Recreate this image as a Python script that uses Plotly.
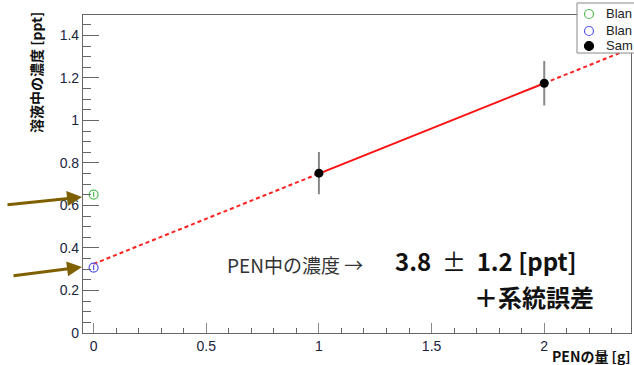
import plotly.graph_objects as go

# ---- data ----
blank1_x = [0.0]
blank1_y = [0.651]
blank1_err = [0.012]
blank2_x = [0.0]
blank2_y = [0.308]
blank2_err = [0.012]
sample_x = [1.0, 2.0]
sample_y = [0.752, 1.175]
sample_err = [0.095, 0.1]
fit_slope = 0.425
fit_intercept = 0.325
fit_solid_range = [1.0, 2.0]
fit_dash_ranges = [[0.0, 1.0], [2.0, 2.385]]
x_range = [-0.047, 2.385]
y_range = [0.0, 1.496]
x_ticks = [0, 0.5, 1, 1.5, 2]
x_ticklabels = ["0", "0.5", "1", "1.5", "2"]
y_ticks = [0, 0.2, 0.4, 0.6, 0.8, 1.0, 1.2, 1.4]
y_ticklabels = ["0", "0.2", "0.4", "0.6", "0.8", "1", "1.2", "1.4"]
legend_labels = ["Blan", "Blan", "Sam"]
legend_colors = ["#55bb55", "#5555ee", "#000000"]
legend_filled = [False, False, True]
y_title = "溶液中の濃度 [ppt]"
x_title = "PENの量 [g]"
result_lead = "PEN中の濃度&nbsp;→"
result_value = "<b>3.8</b>&nbsp;&nbsp;±&nbsp;&nbsp;<b>1.2&nbsp;[ppt]</b>"
result_syst = "＋系統誤差"

W, H = 634, 365
L, R, T, B = 83, 3, 15, 32
pw = W - L - R
ph = H - T - B

def px_x(p):
    return (p - L) / pw

def px_y(p):
    return (H - B - p) / ph

fig = go.Figure()

def fit_line(xs):
    return [fit_intercept + fit_slope * x for x in xs]

for rng in fit_dash_ranges:
    fig.add_trace(go.Scatter(x=rng, y=fit_line(rng), mode="lines",
                             line=dict(color="#ff2020", width=2, dash="4px,3px"),
                             showlegend=False, hoverinfo="skip"))
fig.add_trace(go.Scatter(x=fit_solid_range, y=fit_line(fit_solid_range), mode="lines",
                         line=dict(color="#ff1010", width=2),
                         showlegend=False, hoverinfo="skip"))

fig.add_trace(go.Scatter(x=blank1_x, y=blank1_y, mode="markers",
                         marker=dict(symbol="circle-open", size=9, color="#55bb55", line=dict(width=1.2)),
                         error_y=dict(type="data", array=blank1_err, color="#55bb55", thickness=1.2, width=0),
                         showlegend=False, cliponaxis=False))
fig.add_trace(go.Scatter(x=blank2_x, y=blank2_y, mode="markers",
                         marker=dict(symbol="circle-open", size=9, color="#5555ee", line=dict(width=1.2)),
                         error_y=dict(type="data", array=blank2_err, color="#5555ee", thickness=1.2, width=0),
                         showlegend=False, cliponaxis=False))
fig.add_trace(go.Scatter(x=sample_x, y=sample_y, mode="markers",
                         marker=dict(symbol="circle", size=9, color="#000000"),
                         error_y=dict(type="data", array=sample_err, color="#888888", thickness=2, width=1),
                         showlegend=False))

shapes = []
# legend box
shapes.append(dict(type="rect", xref="paper", yref="paper",
                   x0=px_x(577), x1=px_x(645), y0=px_y(53), y1=px_y(3),
                   line=dict(color="#888888", width=1), fillcolor="white", layer="above"))
annotations = []
leg_ys = [14, 31, 46]
for lab, col, filled, ly in zip(legend_labels, legend_colors, legend_filled, leg_ys):
    shapes.append(dict(type="circle", xref="paper", yref="paper",
                       xsizemode="pixel", ysizemode="pixel",
                       xanchor=px_x(589), yanchor=px_y(ly),
                       x0=-4.5, x1=4.5, y0=-4.5, y1=4.5,
                       line=dict(color=col, width=1.2),
                       fillcolor=col if filled else "rgba(0,0,0,0)", layer="above"))
    annotations.append(dict(text=lab, xref="paper", yref="paper", x=px_x(604), y=px_y(ly),
                            xanchor="left", yanchor="middle", showarrow=False,
                            font=dict(family="Liberation Sans", size=13, color="#222")))

# axis titles
annotations.append(dict(text="<b>" + y_title + "</b>", xref="paper", yref="paper", x=px_x(36), y=px_y(73),
                        textangle=-90, showarrow=False, xanchor="center", yanchor="middle",
                        font=dict(family="Noto Sans CJK JP", size=14, color="#111")))
annotations.append(dict(text="<b>" + x_title + "</b>", xref="paper", yref="paper", x=px_x(633), y=px_y(356),
                        showarrow=False, xanchor="right", yanchor="middle",
                        font=dict(family="Noto Sans CJK JP", size=14, color="#111")))

# result text
annotations.append(dict(text=result_lead, xref="paper", yref="paper", x=px_x(225), y=px_y(264),
                        showarrow=False, xanchor="left", yanchor="middle",
                        font=dict(family="Noto Sans CJK JP", size=19, color="#333")))
annotations.append(dict(text=result_value, xref="paper", yref="paper", x=px_x(393), y=px_y(260),
                        showarrow=False, xanchor="left", yanchor="middle",
                        font=dict(family="Noto Sans CJK JP", size=24, color="#111")))
annotations.append(dict(text="<b>" + result_syst + "</b>", xref="paper", yref="paper", x=px_x(596), y=px_y(296),
                        showarrow=False, xanchor="right", yanchor="middle",
                        font=dict(family="Noto Sans CJK JP", size=24, color="#111")))

# arrows
for tip, tail in [((82, 197), (6, 205)), ((82, 267), (12, 276))]:
    annotations.append(dict(text="", xref="paper", yref="paper", x=px_x(tip[0]), y=px_y(tip[1]),
                            ax=tail[0] - tip[0], ay=tail[1] - tip[1], showarrow=True,
                            arrowhead=2, arrowsize=1, arrowwidth=3, arrowcolor="#7f6000"))

tickfont = dict(family="Liberation Sans", size=14, color="#1a2440")
fig.update_layout(
    width=W, height=H,
    margin=dict(l=L, r=R, t=T, b=B),
    paper_bgcolor="white", plot_bgcolor="white",
    showlegend=False,
    xaxis=dict(range=x_range, tickvals=x_ticks, ticktext=x_ticklabels, showgrid=False, zeroline=False,
               showline=True, linecolor="#666", linewidth=1.2, mirror=True,
               ticks="inside", ticklen=10, tickcolor="#888", tickwidth=1.2, tickfont=tickfont,
               minor=dict(dtick=0.1, ticks="inside", ticklen=5, tickcolor="#666", tickwidth=1, tick0=0)),
    yaxis=dict(range=y_range, tickvals=y_ticks, ticktext=y_ticklabels, showgrid=False, zeroline=False,
               showline=True, linecolor="#666", linewidth=1.2, mirror=True,
               ticks="inside", ticklen=16, tickcolor="#666", tickwidth=1.2, tickfont=tickfont,
               minor=dict(dtick=0.05, ticks="inside", ticklen=8, tickcolor="#666", tickwidth=1, tick0=0)),
    shapes=shapes,
    annotations=annotations,
)

fig.write_html("out.html", config={"displayModeBar": False},
               post_script="document.body.style.margin='0';document.body.style.overflow='hidden';")
